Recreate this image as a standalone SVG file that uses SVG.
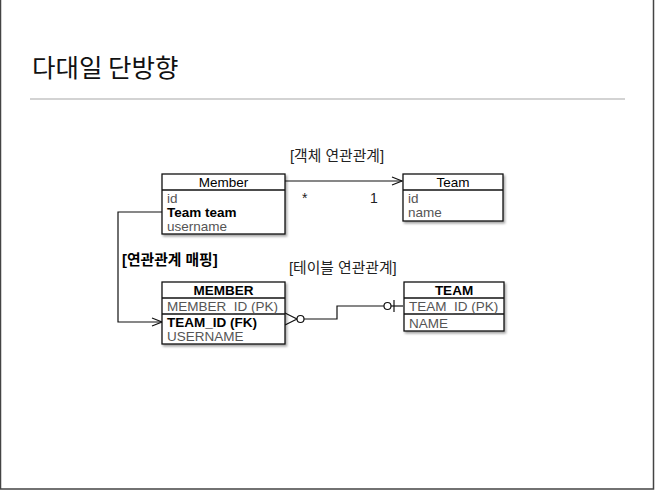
<svg xmlns="http://www.w3.org/2000/svg" width="655" height="490" viewBox="0 0 655 490">
<style>
text{font-family:"Liberation Sans","Noto Sans CJK KR",sans-serif;}
.box{fill:#fff;stroke:#111;stroke-width:1.3;}
.sep2{stroke:#111;stroke-width:1.5;}
.hdr{font-size:13.5px;text-anchor:middle;fill:#000;}
.hdrb{font-size:13.5px;text-anchor:middle;fill:#000;font-weight:bold;}
.row{font-size:13.5px;fill:#555;}
.rowb{font-size:13.5px;fill:#000;font-weight:bold;}
.lbl{font-size:14.8px;fill:#222;}
.conn{fill:none;stroke:#111;stroke-width:1.2;}
</style>
<defs>
<filter id="sh" x="-10%" y="-10%" width="130%" height="140%">
<feDropShadow dx="1.5" dy="2" stdDeviation="1.2" flood-color="#000" flood-opacity="0.35"/>
</filter>
<marker id="oa" markerWidth="12" markerHeight="10" refX="11" refY="5" orient="auto" markerUnits="userSpaceOnUse">
<path d="M1,1 L11,5 L1,9" fill="none" stroke="#111" stroke-width="1.2"/>
</marker>
</defs>
<rect width="655" height="490" fill="#fff"/>
<path d="M0.5,0 V489 H653.5 V0" fill="none" stroke="#444" stroke-width="1.5"/>
<text x="32" y="77" style="font-size:25.5px;font-family:'Noto Sans CJK KR','Liberation Sans',sans-serif;" fill="#111">다대일 단방향</text>
<line x1="30" y1="99" x2="625" y2="99" stroke="#c4c4c4" stroke-width="1.3"/>

<text class="lbl" x="290" y="161">[객체 연관관계]</text>
<text class="lbl" x="302" y="203" style="font-size:14px">*</text>
<text class="lbl" x="370" y="203" style="font-size:14px">1</text>
<text class="lbl" x="122" y="265" style="font-weight:bold;fill:#000">[연관관계 매핑]</text>
<text class="lbl" x="289" y="273">[테이블 연관관계]</text>

<g id="connectors">
<line class="conn" x1="285" y1="181" x2="402" y2="181" marker-end="url(#oa)"/>
<polyline class="conn" points="162,212 118,212 118,322 162,322" marker-end="url(#oa)"/>
<path class="conn" d="M297,319 H337 V306 H384"/>
<path class="conn" d="M285,313 L297,319 L285,325"/>
<circle cx="300.5" cy="319" r="3.5" fill="#fff" stroke="#111" stroke-width="1.2"/>
<circle cx="387.5" cy="306" r="3.5" fill="#fff" stroke="#111" stroke-width="1.2"/>
<line class="conn" x1="391" y1="306" x2="403" y2="306"/>
<line class="conn" x1="394" y1="300" x2="394" y2="312"/>
</g>

<g id="node-member">
<rect class="box" x="162" y="174" width="123" height="60" filter="url(#sh)"/>
<line class="sep2" x1="162" y1="190" x2="285" y2="190"/>
<text class="hdr" x="223.5" y="187">Member</text>
<text class="row" x="167" y="203">id</text>
<text class="rowb" x="167" y="217">Team team</text>
<text class="row" x="167" y="231">username</text>
</g>

<g id="node-team">
<rect class="box" x="403" y="174" width="100" height="47" filter="url(#sh)"/>
<line class="sep2" x1="403" y1="190" x2="503" y2="190"/>
<text class="hdr" x="453" y="187">Team</text>
<text class="row" x="408" y="203">id</text>
<text class="row" x="408" y="217">name</text>
</g>

<g id="node-MEMBER">
<rect class="box" x="162" y="282" width="123" height="62" filter="url(#sh)"/>
<line class="sep2" x1="162" y1="298" x2="285" y2="298"/>
<line class="sep2" x1="162" y1="314" x2="285" y2="314"/>
<text class="hdrb" x="223.5" y="295">MEMBER</text>
<text class="row" x="167" y="311">MEMBER_ID (PK)</text>
<text class="rowb" x="167" y="327">TEAM_ID (FK)</text>
<text class="row" x="167" y="341">USERNAME</text>
</g>

<g id="node-TEAM">
<rect class="box" x="404" y="282" width="100" height="49" filter="url(#sh)"/>
<line class="sep2" x1="404" y1="298" x2="504" y2="298"/>
<line class="sep2" x1="404" y1="314" x2="504" y2="314"/>
<text class="hdrb" x="454" y="295">TEAM</text>
<text class="row" x="409" y="311">TEAM_ID (PK)</text>
<text class="row" x="409" y="327.5">NAME</text>
</g>
</svg>
